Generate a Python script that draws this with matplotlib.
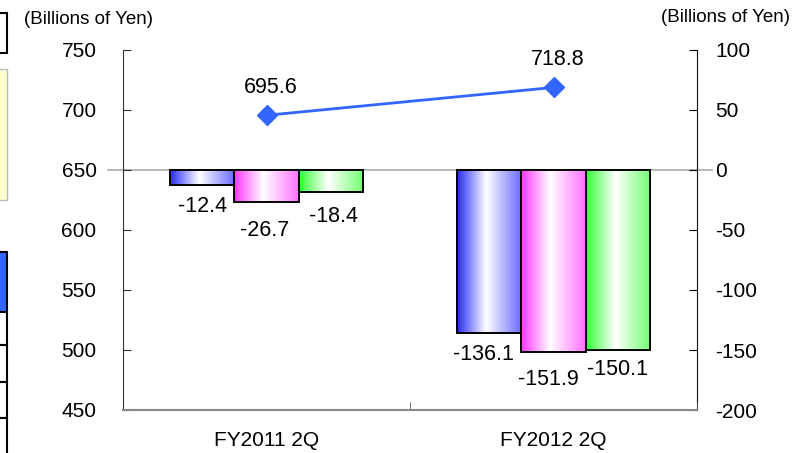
import numpy as np
import matplotlib
matplotlib.use("Agg")
import matplotlib.pyplot as plt
from matplotlib.patches import Rectangle
from matplotlib.transforms import blended_transform_factory

plt.rcParams["font.family"] = ["Liberation Sans", "DejaVu Sans"]

# data
periods = ["FY2011 2Q", "FY2012 2Q"]
sales = [695.6, 718.8]                 # left axis, line
loss_a = [-12.4, -136.1]               # right axis, bars
loss_b = [-26.7, -151.9]
loss_c = [-18.4, -150.1]
left_ticks = [450, 500, 550, 600, 650, 700, 750]
right_ticks = [-200, -150, -100, -50, 0, 50, 100]
unit = "(Billions of Yen)"

bar_colors = [(0.16, 0.16, 1.0), (1.0, 0.2, 1.0), (0.2, 1.0, 0.2)]
line_color = "#3366FF"
# label offsets in pixels (dx, dy) below each bar, per series then per period
bar_label_off = [[(0, -22), (-6, -21)], [(-2, -28), (-5, -27)], [(3, -24), (0, -19)]]

W, H = 798, 453
fig = plt.figure(figsize=(W / 100, H / 100), dpi=100)

# pieces of neighbouring slide elements at the left edge
bg = fig.add_axes([0, 0, 1, 1], zorder=-5)
bg.set_xlim(0, W)
bg.set_ylim(H, 0)
bg.axis("off")
bg.add_patch(Rectangle((-5, 13), 12, 40, fc="white", ec="black", lw=1.5))
bg.add_patch(Rectangle((-5, 69), 12, 131, fc="#FFFFD0", ec="#BBBBBB", lw=1))
bg.add_patch(Rectangle((-5, 252), 12, 60, fc="#3366FF", ec="black", lw=1.5))
for y0, y1 in [(312, 345), (345, 382), (382, 418), (418, 460)]:
    bg.add_patch(Rectangle((-5, y0), 12, y1 - y0, fc="white", ec="black", lw=1.5))

ax = fig.add_axes([123 / W, 1 - 410 / H, 574 / W, 360 / H])
ax2 = ax.twinx()

x = np.arange(len(periods))
bw = 0.223


def gradient_bar(axis, xc, h, w, color):
    bar = axis.bar(xc, h, w, color="none", edgecolor="black", linewidth=1.4, zorder=3)[0]
    t = np.linspace(0, 1, 256)
    mix = np.interp(t, [0, 0.45, 1], [0.0, 1.0, 0.3])
    base = np.array(color)
    rgb = base[None, :] * (1 - mix[:, None]) + mix[:, None]
    im = axis.imshow(rgb[None, :, :], extent=[xc - w / 2, xc + w / 2, h, 0],
                     aspect="auto", zorder=2, interpolation="bilinear")
    im.set_clip_path(bar)
    return bar


for si, (vals, col) in enumerate(zip([loss_a, loss_b, loss_c], bar_colors)):
    for pi, v in enumerate(vals):
        xc = x[pi] + (si - 1) * bw
        gradient_bar(ax2, xc, v, bw, col)
        dx, dy = bar_label_off[si][pi]
        ax2.annotate(f"{v:.1f}", (xc, v), xytext=(dx * 0.72, dy * 0.72),
                     textcoords="offset points", ha="center", va="center", fontsize=15.5)

ax2.set_ylim(-200, 100)
ax2.set_yticks(right_ticks)
ax2.set_yticklabels([str(t) for t in right_ticks])
ax.set_xlim(-0.5, 1.5)
ax2.set_xlim(-0.5, 1.5)

# zero reference line, reaching a little past both axes
tr = blended_transform_factory(ax2.transAxes, ax2.transData)
ax2.plot([-0.027, 1.026], [0, 0], color="#AAAAAA", lw=1.2, transform=tr,
         clip_on=False, zorder=1)

ax.plot(x, sales, color=line_color, lw=2, marker="D", markersize=10, zorder=4)
for xi, v in zip(x, sales):
    ax.annotate(f"{v:.1f}", (xi, v), xytext=(3, 20), textcoords="offset points",
                ha="center", va="center", fontsize=15.5)
ax.set_ylim(450, 750)
ax.set_yticks(left_ticks)
ax.set_yticklabels([str(t) for t in left_ticks])
ax.set_zorder(ax2.get_zorder() + 1)
ax.patch.set_visible(False)

ax.set_xticks(x)
ax.set_xticklabels(periods)
ax.set_xticks([-0.5, 0.5, 1.5], minor=True)
ax.tick_params(axis="x", which="major", length=0, pad=15, labelsize=15)
ax.tick_params(axis="x", which="minor", direction="in", length=6, color="#555555")
ax.tick_params(axis="y", direction="in", length=6, pad=19, labelsize=15, color="#333333")
ax2.tick_params(axis="y", direction="in", length=6, pad=13, labelsize=15)
ax2.tick_params(axis="x", length=0, labelbottom=False)

for a in (ax, ax2):
    a.spines["top"].set_visible(False)
ax.spines["right"].set_visible(False)
ax2.spines["left"].set_visible(False)
ax2.spines["bottom"].set_visible(False)
ax.spines["left"].set_color("#333333")
ax.spines["bottom"].set_color("#888888")
ax.spines["bottom"].set_linewidth(1.5)
ax2.spines["right"].set_color("#111111")

fig.text(24 / W, 1 - 20 / H, unit, fontsize=13.5, ha="left", va="center")
fig.text(790 / W, 1 - 18 / H, unit, fontsize=13.5, ha="right", va="center")

fig.savefig("out.png", dpi=100)
